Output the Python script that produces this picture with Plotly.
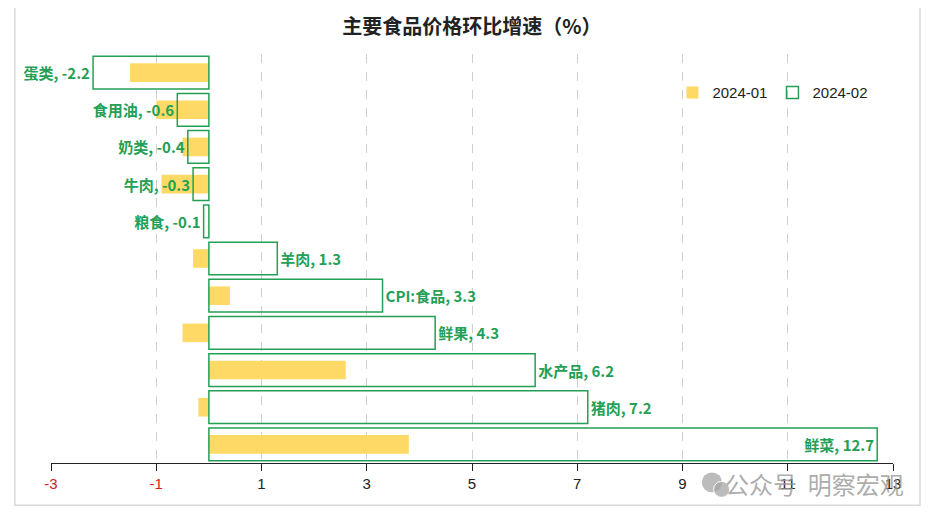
import plotly.graph_objects as go

categories = ["蛋类", "食用油", "奶类", "牛肉", "粮食", "羊肉", "CPI:食品", "鲜果", "水产品", "猪肉", "鲜菜"]
jan_2024 = [-1.5, -1.0, -0.5, -0.9, 0.0, -0.3, 0.4, -0.5, 2.6, -0.2, 3.8]
feb_2024 = [-2.2, -0.6, -0.4, -0.3, -0.1, 1.3, 3.3, 4.3, 6.2, 7.2, 12.7]
tick_vals = [-3, -1, 1, 3, 5, 7, 9, 11, 13]

GREEN = "#23a055"
YELLOW = "#FFD966"
CJK = "Noto Sans CJK SC"

labels = [f"<b>{c}, {v}</b>" for c, v in zip(categories, feb_2024)]
positions = ["outside"] * (len(categories) - 1) + ["inside"]

fig = go.Figure()
fig.add_trace(go.Bar(
    name="2024-01", y=categories, x=jan_2024, orientation="h",
    width=0.5, marker=dict(color=YELLOW, line=dict(width=0)),
    hoverinfo="x+y",
))
fig.add_trace(go.Bar(
    name="2024-02", y=categories, x=feb_2024, orientation="h",
    width=0.88, marker=dict(color="rgba(0,0,0,0)", line=dict(color=GREEN, width=1.5)),
    text=labels, texttemplate="%{text}", textposition=positions,
    insidetextanchor="end", cliponaxis=False,
    textfont=dict(color=GREEN, size=15, family=CJK),
    insidetextfont=dict(color=GREEN, size=15, family=CJK),
    outsidetextfont=dict(color=GREEN, size=15, family=CJK),
))

ticktext = [f"<span style='color:#d0201c'>{v}</span>" if v < 0 else str(v) for v in tick_vals]

fig.update_layout(
    width=937, height=519,
    margin=dict(l=43, r=52, t=46, b=64),
    paper_bgcolor="white", plot_bgcolor="white",
    barmode="overlay",
    font=dict(family=CJK, color="#222"),
    title=dict(text="<b>主要食品价格环比增速（%）</b>", x=0.5, xref="paper", y=1 - 19 / 519, yref="container",
               xanchor="center", yanchor="middle", font=dict(size=20, color="#222", family=CJK)),
    xaxis=dict(range=[-3, 13], tickvals=tick_vals, ticktext=ticktext,
               showgrid=True, gridcolor="#cfcfcf", griddash="dash", gridwidth=1,
               zeroline=False, showline=True, linecolor="#222", linewidth=1.2,
               ticks="outside", ticklen=7, tickcolor="#222",
               tickfont=dict(size=15, family="Liberation Sans Narrow, Liberation Sans", color="#222")),
    yaxis=dict(categoryorder="array", categoryarray=categories, autorange="reversed",
               showticklabels=False, showgrid=False, zeroline=False, showline=False),
    legend=dict(orientation="h", x=0.738, y=0.905, xanchor="left", yanchor="middle",
                font=dict(size=15, family="Liberation Sans, Noto Sans", color="#222"),
                bgcolor="rgba(0,0,0,0)", traceorder="normal", itemwidth=30),
    showlegend=True,
)

fig.add_shape(type="rect", xref="paper", yref="paper",
              x0=-0.043, x1=1.032, y0=-0.103, y1=1.125,
              line=dict(color="#d9d9d9", width=1.5), fillcolor="rgba(0,0,0,0)", layer="below")

# watermark icon (two overlapping bubbles)
fig.add_shape(type="circle", xref="paper", yref="paper",
              x0=0.773, x1=0.797, y0=-0.0718, y1=-0.023,
              line=dict(width=0), fillcolor="rgba(165,165,165,0.75)")
fig.add_shape(type="circle", xref="paper", yref="paper",
              x0=0.787, x1=0.806, y0=-0.084, y1=-0.045,
              line=dict(color="white", width=1), fillcolor="rgba(165,165,165,0.75)")

fig.add_annotation(text="公众号  明察宏观", xref="paper", yref="paper", x=1.015, y=-0.05,
                   xanchor="right", yanchor="middle", showarrow=False,
                   font=dict(size=24, color="rgba(150,150,150,0.8)", family=CJK))

fig.write_html("out.html")
